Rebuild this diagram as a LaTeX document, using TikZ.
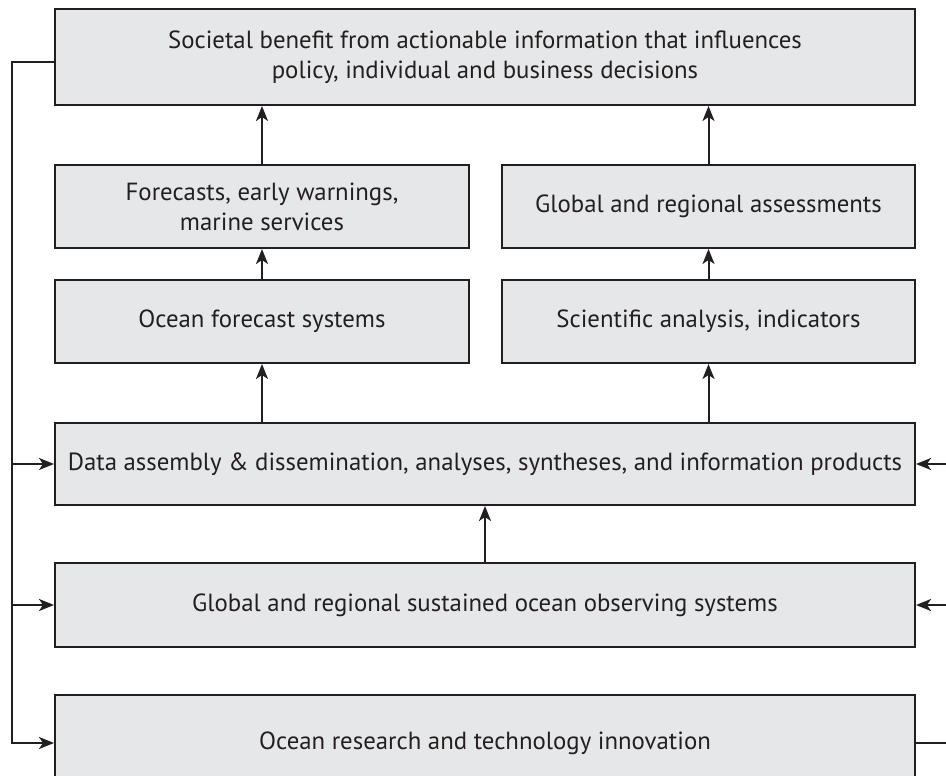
\documentclass[tikz,border=0pt]{standalone}
\usepackage{fontspec}
\setmainfont{PT Sans}
\usetikzlibrary{arrows.meta}
\definecolor{boxfill}{HTML}{E6E7E8}
\definecolor{ink}{HTML}{231F20}
\begin{document}
\begin{tikzpicture}[x=1pt,y=-1pt,
  blk/.style={draw=ink, fill=boxfill, line width=2pt, inner sep=0pt,
    align=center, text=ink, font=\fontsize{24.8}{30}\selectfont},
  link/.style={draw=ink, line width=2pt,
    -{Stealth[length=15pt,width=12pt,inset=4pt]}},
  plain/.style={draw=ink, line width=2pt}]
\useasboundingbox (0,0) rectangle (946,776);
\clip (0,0) rectangle (946,776);

% boxes
\node[blk, minimum width=860, minimum height=96] (top) at (485,57)
  {Societal benefit from actionable information that influences\\
   policy, individual and business decisions};
\node[blk, minimum width=414, minimum height=83] (fc) at (262,206.5)
  {Forecasts, early warnings,\\ marine services};
\node[blk, minimum width=413, minimum height=83] (ga) at (708.5,206.5)
  {Global and regional assessments};
\node[blk, minimum width=414, minimum height=83] (ofs) at (262,321.5)
  {Ocean forecast systems};
\node[blk, minimum width=413, minimum height=83] (sa) at (708.5,321.5)
  {Scientific analysis, indicators};
\node[blk, minimum width=860, minimum height=82] (data) at (485,464)
  {Data assembly \& dissemination, analyses, syntheses, and information products};
\node[blk, minimum width=860, minimum height=84] (obs) at (485,605)
  {Global and regional sustained ocean observing systems};
\node[blk, minimum width=860, minimum height=96] (res) at (485,743)
  {Ocean research and technology innovation};

% upward flow
\draw[link] (fc.north) -- (fc.north |- top.south);
\draw[link] (ga.north) -- (ga.north |- top.south);
\draw[link] (ofs.north) -- (fc.south);
\draw[link] (sa.north) -- (ga.south);
\draw[link] (data.north -| ofs.south) -- (ofs.south);
\draw[link] (data.north -| sa.south) -- (sa.south);
\draw[link] (obs.north) -- (obs.north |- data.south);

% feedback on the left
\coordinate (lbus) at (12,0);
\draw[link] ([yshift=-5pt]top.west) -| (lbus |- res.west) -- (res.west);
\draw[link] (lbus |- data.west) -- (data.west);
\draw[link] (lbus |- obs.west) -- (obs.west);

% feedback on the right
\coordinate (rbus) at (950,0);
\draw[link] (rbus |- data.east) -- (data.east);
\draw[link] (rbus |- obs.east) -- (obs.east);
\draw[plain] (res.east) -- (rbus |- res.east);
\end{tikzpicture}
\end{document}
